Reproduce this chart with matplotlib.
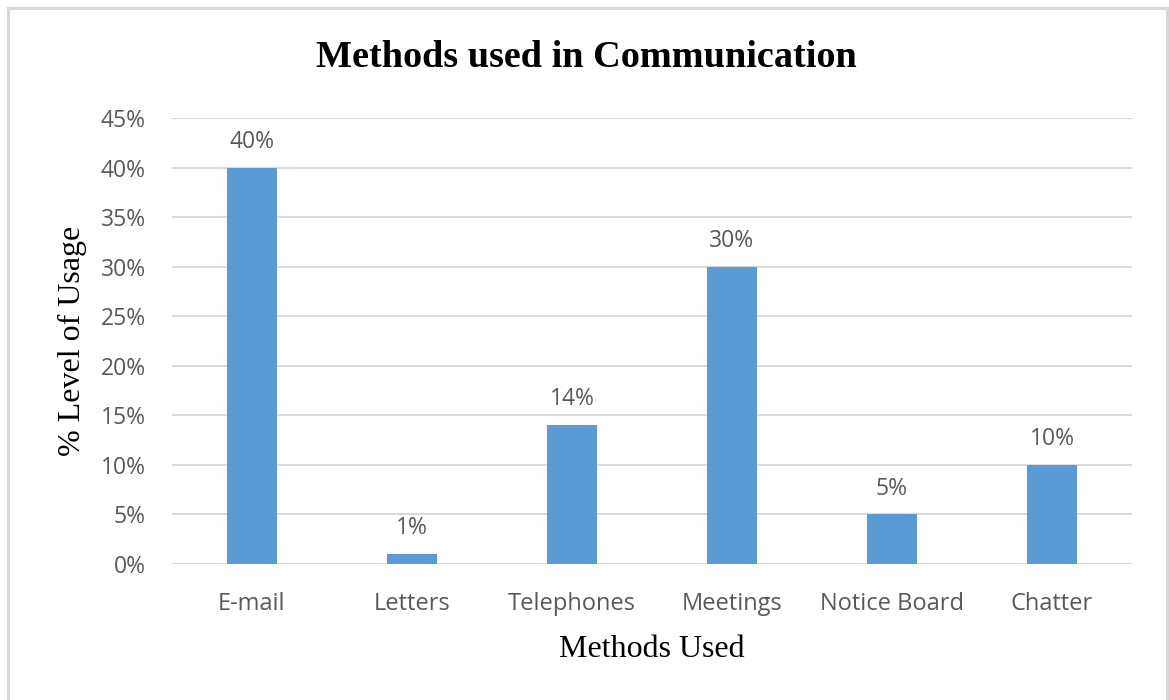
import matplotlib.pyplot as plt
from matplotlib.patches import Rectangle
import numpy as np

methods = ["E-mail", "Letters", "Telephones", "Meetings", "Notice Board", "Chatter"]
usage = [40, 1, 14, 30, 5, 10]
yticks = [0, 5, 10, 15, 20, 25, 30, 35, 40, 45]

bar_color = "#5B9BD5"
text_gray = "#595959"
grid_gray = "#D9D9D9"
sans = ["Open Sans", "DejaVu Sans"]
serif = ["Liberation Serif", "DejaVu Serif"]

fig = plt.figure(figsize=(11.69, 7.0), dpi=100)
ax = fig.add_axes([0.1471, 0.1943, 0.8212, 0.637])

x = np.arange(len(methods))
ax.bar(x, usage, width=0.31, color=bar_color, zorder=3)

for xi, v in zip(x, usage):
    ax.text(xi, v + 1.4, f"{v}%", ha="center", va="bottom",
            fontsize=16.5, color=text_gray, family=sans)

ax.set_xlim(-0.5, len(methods) - 0.5)
ax.set_ylim(0, 45)
ax.set_yticks(yticks)
ax.set_yticklabels([f"{t}%" for t in yticks], family=sans, fontsize=16.5, color=text_gray)
ax.set_xticks(x)
ax.set_xticklabels(methods, family=sans, fontsize=17, color=text_gray)
ax.tick_params(length=0)
ax.tick_params(axis="x", pad=20)
ax.tick_params(axis="y", pad=19)

ax.grid(axis="y", color=grid_gray, linewidth=1.4, zorder=0)
for s in ax.spines.values():
    s.set_visible(False)

ax.set_xlabel("Methods Used", family=serif, fontsize=23, color="black", labelpad=14)
ax.set_ylabel("% Level of Usage", family=serif, fontsize=23, color="black", labelpad=10)
fig.text(0.502, 0.918, "Methods used in Communication", ha="center", va="center",
         family=serif, fontsize=27.5, fontweight="bold")

# light frame around the chart
fig.patches.append(Rectangle((8 / 1169, -0.02), 1159 / 1169, 1 - 8 / 700 + 0.02,
                             transform=fig.transFigure, fill=False,
                             edgecolor=grid_gray, linewidth=2.2))

fig.savefig("out.png", dpi=100)
